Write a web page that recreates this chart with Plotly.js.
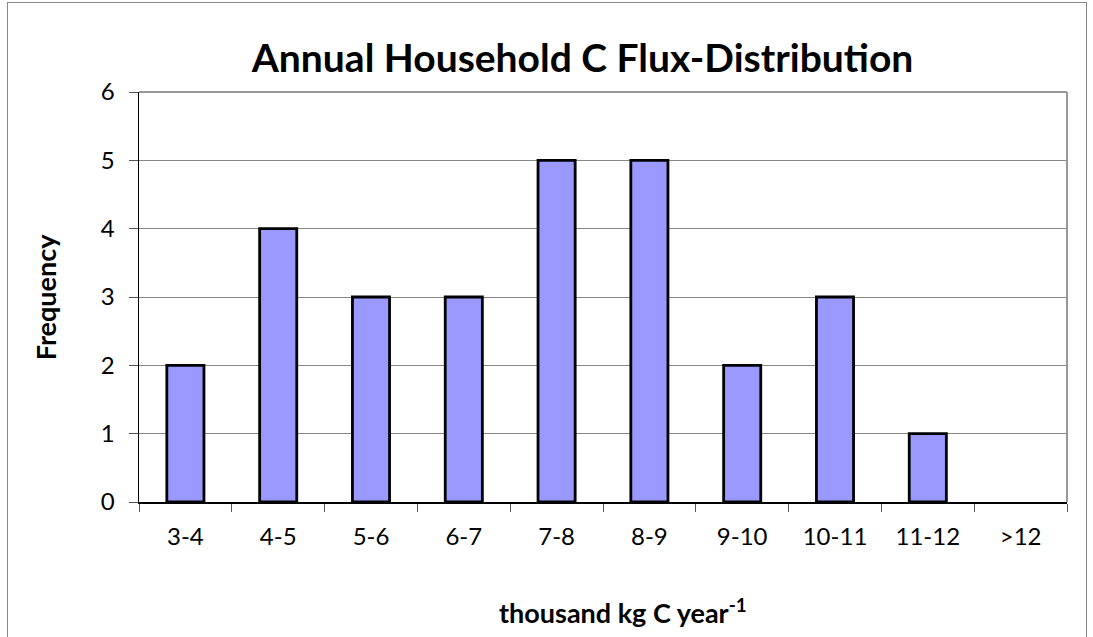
<!DOCTYPE html>
<html>
<head>
<meta charset="utf-8">
<script src="https://cdn.plot.ly/plotly-3.0.1.min.js"></script>
<style>
html,body{margin:0;padding:0;background:#fff;}
#wrap{position:relative;width:1093px;height:637px;overflow:hidden;}
#frame{position:absolute;left:7px;top:2px;width:1080px;height:700px;border:1.5px solid #888;box-sizing:border-box;pointer-events:none;z-index:5;}
#chart{position:absolute;left:0;top:0;width:1093px;height:637px;}
</style>
</head>
<body>
<div id="wrap">
<div id="chart"></div>
<div id="frame"></div>
</div>
<script>
const categories = ["3-4","4-5","5-6","6-7","7-8","8-9","9-10","10-11","11-12",">12"];
const frequency = [2,4,3,3,5,5,2,3,1,0];
const yTicks = [0,1,2,3,4,5,6];
const chartTitle = 'Annual Household C Flux-Distribution';
const xTitle = 'thousand kg C year<sup>-1</sup>';
const yTitle = 'Frequency';

const FONT = 'Lato, "Open Sans", sans-serif';

const trace = {
  type: 'bar',
  x: categories,
  y: frequency,
  width: 0.4,
  marker: {color: '#9999FF', line: {color: '#000000', width: frequency.map(v => v > 0 ? 2.8 : 0)}},
  hoverinfo: 'x+y'
};

const layout = {
  width: 1093, height: 637,
  margin: {l: 139, r: 26, t: 92, b: 135},
  paper_bgcolor: '#ffffff',
  plot_bgcolor: '#ffffff',
  font: {family: FONT, color: '#000'},
  title: {
    text: '<b>' + chartTitle + '</b>',
    font: {size: 39, family: FONT, color: '#000'},
    x: 0.533, xanchor: 'center', y: 0.909, yanchor: 'middle'
  },
  showlegend: false,
  xaxis: {
    type: 'category',
    categoryorder: 'array', categoryarray: categories,
    tickson: 'boundaries',
    ticks: 'outside', ticklen: 8, tickcolor: '#555', tickwidth: 1,
    ticklabelstandoff: 13,
    showline: true, linecolor: '#000', linewidth: 1.5,
    showgrid: false,
    tickfont: {size: 24, family: FONT, color: '#000'}
  },
  yaxis: {
    range: [0, 6],
    tickvals: yTicks,
    ticks: 'outside', ticklen: 9, tickcolor: '#555', tickwidth: 1,
    ticklabelstandoff: 9,
    showline: true, linecolor: '#000', linewidth: 1.5,
    showgrid: true, gridcolor: '#888', gridwidth: 1,
    zeroline: false,
    tickfont: {size: 24, family: FONT, color: '#000'}
  },
  annotations: [
    {text: '<b>' + xTitle + '</b>', xref: 'paper', yref: 'paper', x: 0.5216, y: -0.266,
     xanchor: 'center', yanchor: 'middle', showarrow: false, font: {size: 27, family: FONT, color: '#000'}},
    {text: '<b>' + yTitle + '</b>', xref: 'paper', yref: 'paper', x: -0.101, y: 0.5, textangle: -90,
     xanchor: 'center', yanchor: 'middle', showarrow: false, font: {size: 27, family: FONT, color: '#000'}}
  ],
  shapes: [
    {type: 'line', xref: 'paper', yref: 'paper', x0: 0, x1: 1, y0: 1, y1: 1, line: {color: '#999', width: 2}},
    {type: 'line', xref: 'paper', yref: 'paper', x0: 1, x1: 1, y0: 0, y1: 1, line: {color: '#999', width: 2}}
  ]
};

Plotly.newPlot('chart', [trace], layout, {displayModeBar: false, staticPlot: true});
</script>
</body>
</html>
